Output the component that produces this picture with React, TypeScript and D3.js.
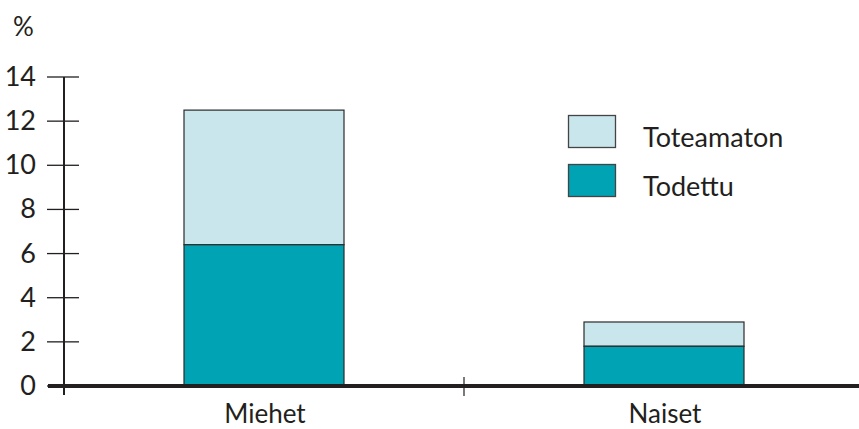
import React from "react";
import * as d3 from "d3";

const categories = ["Miehet", "Naiset"];
const todettu = [6.4, 1.8];
const toteamaton = [6.1, 1.1];
const seriesNames = ["Toteamaton", "Todettu"];
const yTicks = [0, 2, 4, 6, 8, 10, 12, 14];

const W = 859;
const H = 429;
const x0 = 64;
const yBase = 386;
const yTop = 77;

export default function App() {
  const y = d3.scaleLinear().domain([0, 14]).range([yBase, yTop]);
  const x = d3.scaleBand().domain(categories).range([x0, 864]).paddingInner(0).paddingOuter(0);
  const bw = x.bandwidth() * 0.4;
  const textColor = "#231f20";
  const font = "Lato, 'Open Sans', sans-serif";
  const light = "#c8e6ec";
  const teal = "#00a3b4";
  const stroke = "#2b2b2b";

  return (
    <svg width={W} height={H} style={{ position: "absolute", left: 0, top: 0 }} fontFamily={font}>
      <text x={13} y={36} fontSize={26} fill={textColor}>%</text>
      {/* y axis */}
      <line x1={x0} x2={x0} y1={y(14)} y2={yBase + 9} stroke={textColor} strokeWidth={2} />
      {yTicks.map((t) => (
        <g key={t}>
          <line x1={47} x2={79} y1={y(t)} y2={y(t)} stroke={textColor} strokeWidth={1.3} />
          <text x={36} y={y(t) + 9} fontSize={27} textAnchor="end" fill={textColor}>{t}</text>
        </g>
      ))}
      {/* bars */}
      {categories.map((c, i) => {
        const cx = (x(c) as number) + x.bandwidth() / 2;
        const left = cx - bw / 2;
        return (
          <g key={c}>
            <rect x={left} y={y(todettu[i] + toteamaton[i])} width={bw}
              height={y(todettu[i]) - y(todettu[i] + toteamaton[i])} fill={light} stroke={stroke} strokeWidth={1.2} />
            <rect x={left} y={y(todettu[i])} width={bw} height={yBase - y(todettu[i])}
              fill={teal} stroke={stroke} strokeWidth={1.2} />
            <text x={cx + 1} y={423} fontSize={26} textAnchor="middle" fill={textColor}>{c}</text>
          </g>
        );
      })}
      {/* baseline */}
      <line x1={48} x2={W} y1={yBase} y2={yBase} stroke={textColor} strokeWidth={4} />
      <line x1={x("Naiset") as number} x2={x("Naiset") as number} y1={yBase - 9} y2={yBase + 10} stroke={textColor} strokeWidth={1.2} />
      {/* legend */}
      {seriesNames.map((s, i) => (
        <g key={s}>
          <rect x={568.5} y={115.5 + i * 49} width={47} height={32} fill={i === 0 ? light : teal} stroke="#444" strokeWidth={1.3} />
          <text x={643} y={147 + i * 49} fontSize={27} fill={textColor}>{s}</text>
        </g>
      ))}
    </svg>
  );
}
